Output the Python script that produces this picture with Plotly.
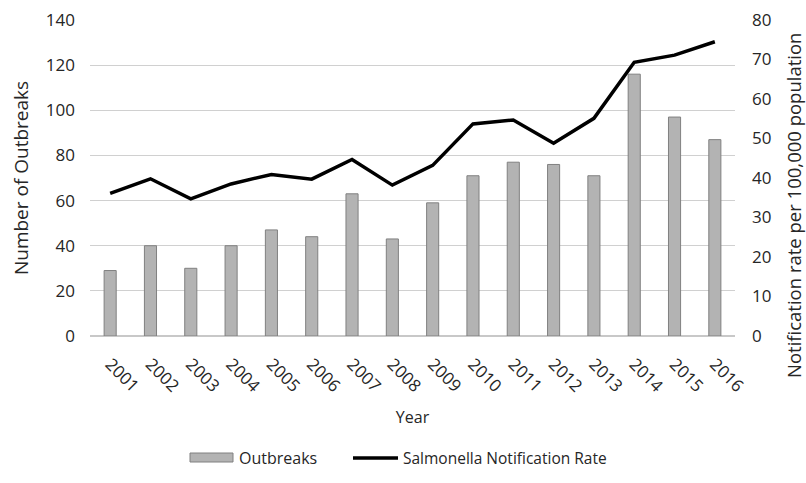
import plotly.graph_objects as go

years = [str(y) for y in range(2001, 2017)]
outbreaks = [29, 40, 30, 40, 47, 44, 63, 43, 59, 71, 77, 76, 71, 116, 97, 87]
notification_rate = [36.1, 39.8, 34.7, 38.5, 40.9, 39.7, 44.7, 38.2, 43.2, 53.7,
                     54.7, 48.8, 55.1, 69.3, 71.1, 74.5]

FONT = "Open Sans"
TXT = "#262626"
BAR_FILL = "#b3b3b3"
BAR_EDGE = "#808080"

W, H = 806, 483
L, R, T, B = 90, 71, 20, 147
PW, PH = W - L - R, H - T - B


def px(x):
    return (x - L) / PW


def py(y):
    return (H - B - y) / PH


fig = go.Figure()
fig.add_trace(go.Bar(
    x=years, y=outbreaks, name="Outbreaks",
    marker=dict(color=BAR_FILL, line=dict(color=BAR_EDGE, width=1)),
    width=0.3, yaxis="y", showlegend=False,
))
fig.add_trace(go.Scatter(
    x=years, y=notification_rate, name="Salmonella Notification Rate",
    mode="lines", line=dict(color="black", width=3.5), yaxis="y2",
    showlegend=False,
))

# legend drawn by hand: wide swatch for the bars, thick stroke for the line
shapes = [
    dict(type="rect", xref="paper", yref="paper",
         x0=px(190), x1=px(233), y0=py(462), y1=py(453),
         fillcolor=BAR_FILL, line=dict(color=BAR_EDGE, width=1)),
    dict(type="line", xref="paper", yref="paper",
         x0=px(353), x1=px(398), y0=py(458), y1=py(458),
         line=dict(color="black", width=3.5)),
]
annotations = [
    dict(text="Outbreaks", xref="paper", yref="paper", x=px(237), y=py(458),
         xanchor="left", yanchor="middle", showarrow=False,
         font=dict(size=16, color=TXT)),
    dict(text="Salmonella Notification Rate", xref="paper", yref="paper",
         x=px(401), y=py(458), xanchor="left", yanchor="middle",
         showarrow=False, font=dict(size=15.5, color=TXT)),
    # right-hand axis title
    dict(text="Notification rate per 100,000 population", xref="paper",
         yref="paper", x=px(793), y=py(206), xanchor="center",
         yanchor="middle", textangle=-90, showarrow=False,
         font=dict(size=18.5, color=TXT)),
]

fig.update_layout(
    width=W, height=H,
    margin=dict(l=L, r=R, t=T, b=B, autoexpand=False),
    paper_bgcolor="white", plot_bgcolor="white",
    font=dict(family=FONT, size=16, color=TXT),
    showlegend=False,
    shapes=shapes, annotations=annotations,
    xaxis=dict(
        tickangle=45, showgrid=False, ticks="", automargin=False,
        ticklabelstandoff=14,
        title=dict(text="Year", font=dict(size=16), standoff=16),
        tickfont=dict(size=17),
    ),
    yaxis=dict(
        range=[0, 140], dtick=20, showgrid=True, gridcolor="#d0d0d0",
        zeroline=True, zerolinecolor="#c8c8c8", zerolinewidth=1.5,
        automargin=False, ticklabelstandoff=14,
        title=dict(text="Number of Outbreaks", standoff=12),
        tickfont=dict(size=17), ticks="",
    ),
    yaxis2=dict(
        range=[0, 80], dtick=10, overlaying="y", side="right",
        showgrid=False, zeroline=False, automargin=False,
        ticklabelstandoff=16,
        tickfont=dict(size=17), ticks="",
    ),
)

fig.write_html("out.html")
